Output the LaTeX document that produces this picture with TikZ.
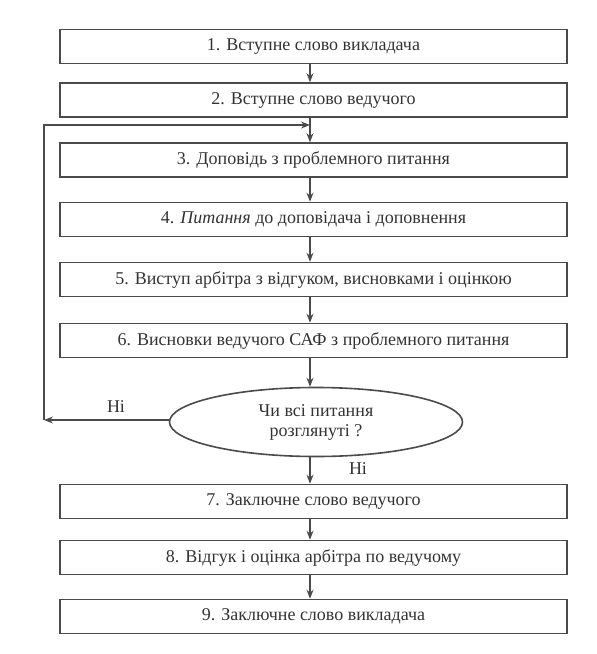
\documentclass[tikz,border=0pt]{standalone}
\usepackage{fontspec}
\setmainfont{Liberation Serif}
\usetikzlibrary{arrows.meta,shapes.geometric}
\definecolor{ink}{HTML}{4A4A4A}
\definecolor{txt}{HTML}{333333}
\begin{document}
\begin{tikzpicture}[x=1pt,y=-1pt,
  stepbox/.style={draw=ink,line width=1.6pt,minimum width=507pt,minimum height=34pt,inner sep=0pt,text=txt,font=\fontsize{18}{20}\selectfont},
  decide/.style={ellipse,draw=ink,line width=1.6pt,minimum width=293pt,minimum height=69pt,inner sep=0pt,text=txt,align=center,font=\fontsize{18}{20}\selectfont},
  flow/.style={draw=ink,line width=1.2pt,-{Stealth[length=9pt,width=7pt]}},
  lbl/.style={text=txt,font=\fontsize{18}{20}\selectfont}]
\useasboundingbox (0,0) rectangle (597,654);
\node[stepbox] (b1) at (313.5,46.5) {1. Вступне слово викладача};
\node[stepbox] (b2) at (313.5,100) {2. Вступне слово ведучого};
\node[stepbox] (b3) at (313.5,160) {3. Доповідь з проблемного питання};
\node[stepbox] (b4) at (313.5,219.5) {4. \textit{Питання} до доповідача і доповнення};
\node[stepbox] (b5) at (313.5,279.5) {5. Виступ арбітра з відгуком, висновками і оцінкою};
\node[stepbox] (b6) at (313.5,340.5) {6. Висновки ведучого САФ з проблемного питання};
\node[decide] (d) at (316,422) {Чи всі питання\\розглянуті ?};
\node[stepbox] (b7) at (313.5,501.5) {7. Заключне слово ведучого};
\node[stepbox] (b8) at (313.5,557.5) {8. Відгук і оцінка арбітра по ведучому};
\node[stepbox] (b9) at (313.5,616.5) {9. Заключне слово викладача};
\coordinate (ax) at (310,0);
\coordinate (join) at (310,125);
\coordinate (lp) at (44,420);
\foreach \a/\b in {b1/b2,b2/b3,b3/b4,b4/b5,b5/b6,b6/d,d/b7,b7/b8,b8/b9}
  \draw[flow] (\a.south -| ax) -- (\b.north -| ax);
\draw[flow] (d.west |- lp) -- (lp);
\draw[draw=ink,line width=1.2pt,-{Stealth[length=9pt,width=7pt]}] (lp) |- (join);
\node[lbl] (no1) at (116,407) {Ні};
\node[lbl] (no2) at (358,469) {Ні};
\end{tikzpicture}
\end{document}
